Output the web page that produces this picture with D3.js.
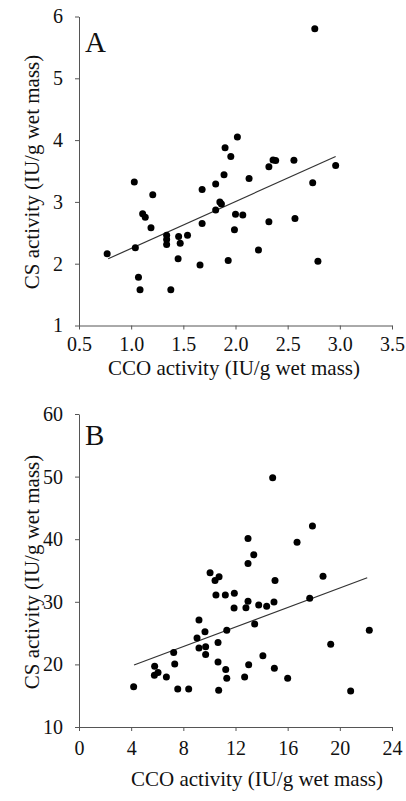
<!DOCTYPE html>
<html>
<head>
<meta charset="utf-8">
<script src="https://cdn.jsdelivr.net/npm/d3@7/dist/d3.min.js"></script>
<style>
  html, body { margin: 0; padding: 0; background: #fff; }
  svg { display: block; }
  text { font-family: "Liberation Serif", "Times New Roman", serif; fill: #111; }
</style>
</head>
<body>
<svg id="chart" width="406" height="801"></svg>
<script>
// ---- Panel A data: CCO activity (x) vs CS activity (y) ----
const aCCO = [0.77, 1.03, 1.04, 1.07, 1.085, 1.11, 1.135, 1.19, 1.207, 1.34, 1.34, 1.34, 1.38, 1.455, 1.47, 1.45, 1.54, 1.66, 1.68, 1.68, 1.81, 1.81, 1.85, 1.865, 1.89, 1.90, 1.93, 1.955, 1.99, 2.00, 2.018, 2.07, 2.13, 2.22, 2.32, 2.32, 2.36, 2.385, 2.56, 2.57, 2.74, 2.76, 2.79, 2.96];
const aCS  = [2.16, 3.32, 2.26, 1.78, 1.58, 2.81, 2.75, 2.58, 3.115, 2.46, 2.39, 2.31, 1.58, 2.44, 2.33, 2.08, 2.46, 1.98, 2.65, 3.20, 2.87, 3.29, 3.00, 2.965, 3.44, 3.875, 2.05, 3.735, 2.55, 2.80, 4.05, 2.79, 3.38, 2.22, 2.68, 3.57, 3.68, 3.67, 3.675, 2.73, 3.31, 5.80, 2.04, 3.59];
const aFitX = [0.78, 2.96];
const aFitY = [2.08, 3.735];
const aXTicks = [0.5, 1.0, 1.5, 2.0, 2.5, 3.0, 3.5];
const aYTicks = [1, 2, 3, 4, 5, 6];

// ---- Panel B data ----
const bCCO = [4.19, 5.8, 5.78, 6.06, 6.7, 7.26, 7.34, 7.57, 8.41, 9.05, 9.2, 9.2, 9.66, 9.71, 9.71, 10.05, 10.43, 10.74, 10.5, 11.22, 11.91, 10.66, 10.66, 10.71, 11.25, 11.33, 11.33, 11.89, 12.96, 12.8, 13.01, 12.7, 13.47, 13.78, 14.39, 14.95, 14.1, 14.98, 16.0, 15.03, 12.96, 13.4, 12.96, 14.85, 16.72, 17.9, 17.69, 18.71, 19.3, 20.83, 22.26];
const bCS  = [16.44, 19.7, 18.26, 18.7, 18.0, 21.9, 20.06, 16.07, 16.07, 24.2, 27.1, 22.6, 25.2, 22.8, 21.6, 34.65, 33.4, 34.0, 31.1, 31.1, 31.35, 23.5, 20.4, 15.86, 19.2, 17.8, 25.45, 29.0, 30.1, 29.05, 19.95, 18.0, 26.45, 29.5, 29.3, 29.95, 21.4, 19.4, 17.8, 33.4, 40.1, 37.5, 36.1, 49.8, 39.5, 42.1, 30.55, 34.1, 23.2, 15.75, 25.45];
const bFitX = [4.22, 22.1];
const bFitY = [19.9, 33.85];
const bXTicks = [0, 4, 8, 12, 16, 20, 24];
const bYTicks = [10, 20, 30, 40, 50, 60];

const yTitle = "CS activity (IU/g wet mass)";
const xTitle = "CCO activity (IU/g wet mass)";

const svg = d3.select("#chart");

function panel(cfg) {
  const g = svg.append("g");
  const x = d3.scaleLinear().domain(cfg.xDom).range([79, 392]);
  const y = d3.scaleLinear().domain(cfg.yDom).range(cfg.yRange);
  const axColor = "#555";

  const xa = g.append("g").attr("transform", `translate(0,${cfg.yRange[0]})`)
    .call(d3.axisBottom(x).tickValues(cfg.xTicks).tickFormat(cfg.xFmt).tickSize(4).tickSizeOuter(0).tickPadding(cfg.xPad));
  const ya = g.append("g").attr("transform", `translate(79,0)`)
    .call(d3.axisLeft(y).tickValues(cfg.yTicks).tickFormat(d3.format("d")).tickSize(4).tickSizeOuter(0).tickPadding(12));
  [xa, ya].forEach(a => {
    a.attr("font-family", null).attr("font-size", null);
    a.selectAll("path, line").attr("stroke", axColor).attr("stroke-width", 1);
    a.selectAll("text").style("font-family", "'Liberation Serif', serif").style("font-size", "20px").attr("fill", "#111");
  });

  const pts = cfg.xs.map((v, i) => [v, cfg.ys[i]]);
  g.append("line")
    .attr("x1", x(cfg.fitX[0])).attr("y1", y(cfg.fitY[0]))
    .attr("x2", x(cfg.fitX[1])).attr("y2", y(cfg.fitY[1]))
    .attr("stroke", "#333").attr("stroke-width", 1.2);
  g.selectAll("circle").data(pts).join("circle")
    .attr("cx", d => x(d[0])).attr("cy", d => y(d[1])).attr("r", 3.5).attr("fill", "#000");

  g.append("text").attr("x", 85).attr("y", cfg.labelY).text(cfg.label)
    .style("font-size", "29px");
  g.append("text")
    .attr("transform", `translate(32,${cfg.yTitleC}) rotate(-90)`)
    .attr("text-anchor", "middle").attr("dy", "0.35em").style("font-size", "21px").text(yTitle);
  g.append("text").attr("x", cfg.xTitleC).attr("y", cfg.xTitleY)
    .attr("text-anchor", "middle").style("font-size", "21px").text(xTitle);
}

panel({ xDom: [0.5, 3.5], yDom: [1, 6], yRange: [325.5, 16.5], xs: aCCO, ys: aCS,
  fitX: aFitX, fitY: aFitY, xTicks: aXTicks, yTicks: aYTicks, xFmt: d3.format(".1f"), xPad: 7,
  label: "A", labelY: 52, yTitleC: 172, xTitleC: 234, xTitleY: 375 });
panel({ xDom: [0, 24], yDom: [10, 60], yRange: [727, 414], xs: bCCO, ys: bCS,
  fitX: bFitX, fitY: bFitY, xTicks: bXTicks, yTicks: bYTicks, xFmt: d3.format("d"), xPad: 10,
  label: "B", labelY: 445, yTitleC: 572, xTitleC: 257, xTitleY: 786 });
</script>
</body>
</html>
